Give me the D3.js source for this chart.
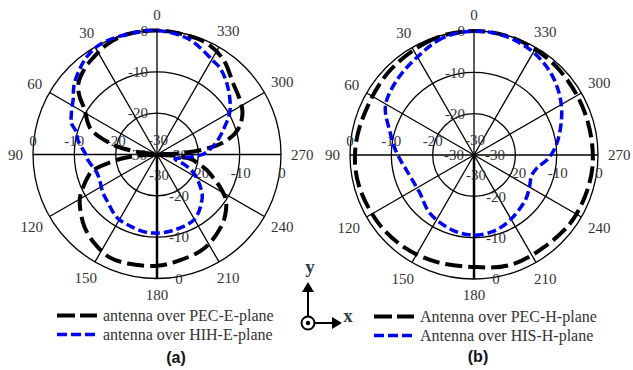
<!DOCTYPE html>
<html>
<head>
<meta charset="utf-8">
<script src="https://cdn.jsdelivr.net/npm/d3@7"></script>
<style>
  body { margin: 0; background: #fff; }
  svg { display: block; }
  text { font-family: "Liberation Serif", "Times New Roman", serif; fill: #333; }
</style>
</head>
<body>
<svg width="633" height="370"></svg>
<script>
// ticks
const angleTicks = d3.range(0, 360, 30);
const ringTicks = [-30, -20, -10, 0];

// [angle ccw from top (deg), gain (dB)]
const pecE = [[0,0],[8,0],[16,-0.1],[25,-0.8],[33,-1.9],[40,-2.8],[48,-4.4],[53,-6.5],[58,-9.3],[65,-11.5],[70,-13.3],[78,-19.6],[82,-25],[88,-30],
  [93,-26],[96,-22],[99,-19],[104,-14],[108,-12.4],[119,-8.7],[125,-7.3],[135,-5.2],[145,-3.7],[155,-2.6],[165,-2.7],[180,-3.1],[192,-3.8],
  [207,-4.6],[222,-6.7],[230,-8.3],[237,-10.2],[243,-13],[248,-15.5],[253,-17.5],[258,-20],[262,-21.5],[266,-25],[270,-30],[273,-25],
  [276,-19],[280,-14],[285,-10.5],[290,-8.5],[297,-6.8],[305,-5.8],[313,-4.8],[325,-2],[336,-0.5],[350,-0.2]];
const hihE = [[0,0],[14,0],[27,0],[35,-0.8],[41,-1.9],[50,-3.8],[57,-5.8],[63,-6.8],[70,-8],[74,-9.6],[80,-10.6],[89,-12.6],[95,-13.3],
  [107,-14.8],[114,-14.8],[125,-14],[133,-13.5],[148,-11.9],[160,-11.5],[172,-11],[180,-11],[191,-11.2],[210,-11.9],[226,-14.8],[232,-16.5],
  [239,-18.7],[245,-20.7],[250,-23],[256,-25.5],[264,-23],[270,-19],[276,-17],[283,-15],[290,-13],[301,-9.4],[315,-6],[324,-4.1],
  [329,-3.6],[336,-2.5],[345,-1]];
const pecH = [[0,0],[20,-0.3],[46,-1.2],[73,-1.6],[90,-1.2],[105,-1.2],[125,-1.6],[143,-2],[161,-2.6],[180,-2.9],[198,-2],[217,-2],
  [238,-1.4],[264,-1.2],[291,-1.3],[317,-0.8],[340,-0.2]];
const hisH = [[0,0],[15,-0.7],[30,-2.6],[46,-4],[61,-5.5],[75,-9],[86,-10.9],[95,-12.3],[103,-13.3],[115,-14],[125,-14],[143,-12.3],
  [164,-11.1],[180,-10.6],[195,-11],[209,-12],[229,-13.5],[240,-14.5],[250,-15.2],[258,-14.5],[268,-11.8],[280,-9.4],[299,-5.8],
  [315,-3.1],[330,-1.3],[345,-0.3]];

const svg = d3.select("svg");
const r = d3.scaleLinear().domain([-30, 0]).range([0, 124]).clamp(true);
const rad = a => a * Math.PI / 180;

const blackStyle = { color: "#000", width: 4, dash: "17,6" };
const blueStyle = { color: "#0000ff", width: 3.5, dash: "9,4" };

function polar(cx, cy, series) {
  const g = svg.append("g").attr("transform", `translate(${cx},${cy})`);

  // rings
  g.selectAll("circle.ring").data(ringTicks.filter(d => d > -30)).join("circle")
    .attr("r", d => r(d)).attr("fill", "none").attr("stroke", "#000").attr("stroke-width", 1.3);

  // spokes
  g.selectAll("line.spoke").data(angleTicks).join("line")
    .attr("x1", 0).attr("y1", 0)
    .attr("x2", d => -r(0) * Math.sin(rad(d)))
    .attr("y2", d => -r(0) * Math.cos(rad(d)))
    .attr("stroke", "#000").attr("stroke-width", d => d === 180 ? 2.5 : 1.3);

  // angle labels
  g.selectAll("text.ang").data(angleTicks).join("text")
    .attr("text-anchor", "middle").attr("dy", "0.35em").attr("font-size", 15)
    .attr("x", d => {
      const w = String(d).length * 7.5;
      const rl = 140 + Math.abs(Math.sin(rad(d))) * (w / 2 - 6);
      return -rl * Math.sin(rad(d));
    })
    .attr("y", d => {
      const w = String(d).length * 7.5;
      const rl = 140 + Math.abs(Math.sin(rad(d))) * (w / 2 - 6);
      return -rl * Math.cos(rad(d));
    })
    .text(d => d);

  // ring labels along the four main axes
  const pos = [];
  ringTicks.forEach(t => {
    const rr = r(t);
    if (t > -30) {
      pos.push({ t, x: -9, y: -rr, a: "end" });
      pos.push({ t, x: -rr, y: -14, a: "middle" });
      pos.push({ t, x: rr + 1, y: 18, a: "middle" });
      pos.push({ t, x: 22, y: rr, a: "middle" });
    } else {
      pos.push({ t, x: 1, y: -15, a: "middle" });
      pos.push({ t, x: -20, y: 0, a: "middle" });
      pos.push({ t, x: 21, y: 0, a: "middle" });
      pos.push({ t, x: 2, y: 20, a: "middle" });
    }
  });
  g.selectAll("text.ringlab").data(pos).join("text")
    .attr("x", d => d.x).attr("y", d => d.y).attr("dy", "0.35em")
    .attr("text-anchor", d => d.a).attr("font-size", 15)
    .text(d => d.t);

  // curves
  const line = d3.lineRadial()
    .angle(d => -rad(d[0]))
    .radius(d => r(d[1]))
    .curve(d3.curveCatmullRomClosed.alpha(0.5));
  series.forEach(s => {
    g.append("path").attr("d", line(s.data))
      .attr("fill", "none").attr("stroke", s.style.color)
      .attr("stroke-width", s.style.width).attr("stroke-dasharray", s.style.dash);
  });
}

polar(157, 154.5, [{ data: pecE, style: blackStyle }, { data: hihE, style: blueStyle }]);
polar(474, 155, [{ data: pecH, style: blackStyle }, { data: hisH, style: blueStyle }]);

// legends
function legend(x, y, style, label) {
  svg.append("line").attr("x1", x).attr("x2", x + 40).attr("y1", y).attr("y2", y)
    .attr("stroke", style.color).attr("stroke-width", style.width)
    .attr("stroke-dasharray", style === blackStyle ? "18,5" : "10,4");
  svg.append("text").attr("x", x + 46).attr("y", y).attr("dy", "0.33em")
    .attr("font-size", 16).attr("fill", "#222").text(label);
}
legend(57, 315.5, blackStyle, "antenna over PEC-E-plane");
legend(57, 334.5, blueStyle, "antenna over HIH-E-plane");
legend(374, 316.5, blackStyle, "Antenna over PEC-H-plane");
legend(374, 335.5, blueStyle, "Antenna over HIS-H-plane");

svg.append("text").attr("x", 176).attr("y", 363).attr("text-anchor", "middle")
  .style("font-family", "'Liberation Sans', Arial, sans-serif").attr("font-weight", "bold")
  .attr("font-size", 16).style("fill", "#111").text("(a)");
svg.append("text").attr("x", 478).attr("y", 362).attr("text-anchor", "middle")
  .style("font-family", "'Liberation Sans', Arial, sans-serif").attr("font-weight", "bold")
  .attr("font-size", 16).style("fill", "#111").text("(b)");

// coordinate glyph
const ax = svg.append("g");
ax.append("line").attr("x1", 308).attr("y1", 316).attr("x2", 308).attr("y2", 291)
  .attr("stroke", "#000").attr("stroke-width", 2);
ax.append("path").attr("d", "M302,292 L308,282 L314,292 Z").attr("fill", "#000");
ax.append("line").attr("x1", 315).attr("y1", 323).attr("x2", 333).attr("y2", 323)
  .attr("stroke", "#000").attr("stroke-width", 2);
ax.append("path").attr("d", "M332,317 L342,323 L332,329 Z").attr("fill", "#000");
ax.append("circle").attr("cx", 308).attr("cy", 323).attr("r", 6.5)
  .attr("fill", "#fff").attr("stroke", "#000").attr("stroke-width", 2);
ax.append("circle").attr("cx", 308).attr("cy", 323).attr("r", 2.2).attr("fill", "#000");
ax.append("text").attr("x", 310).attr("y", 273).attr("text-anchor", "middle")
  .attr("font-size", 19).attr("font-weight", "bold").style("fill", "#2d3a4a").text("y");
ax.append("text").attr("x", 348).attr("y", 322).attr("text-anchor", "middle")
  .attr("font-size", 19).attr("font-weight", "bold").style("fill", "#2d3a4a").text("x");
</script>
</body>
</html>
